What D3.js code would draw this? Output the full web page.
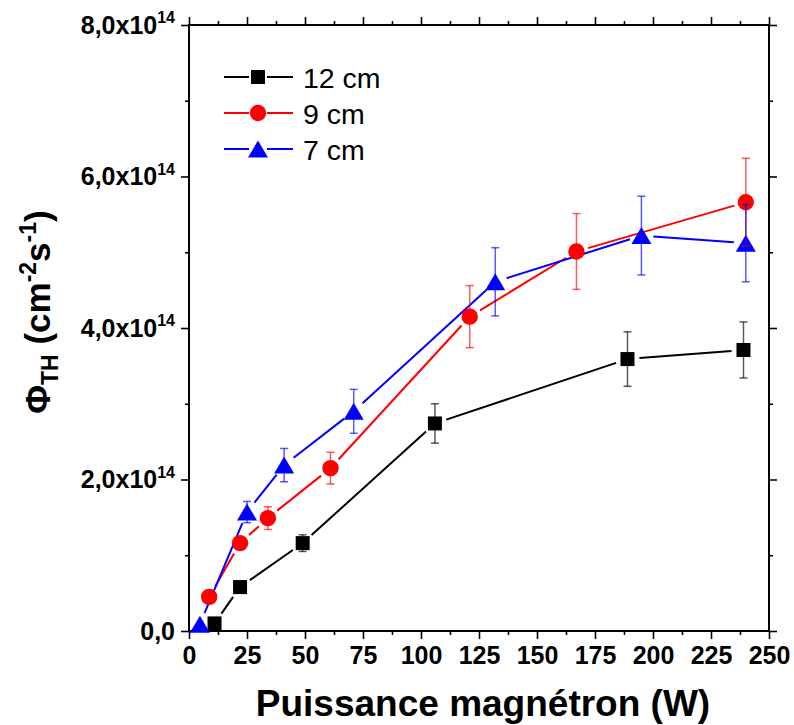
<!DOCTYPE html>
<html>
<head>
<meta charset="utf-8">
<script src="https://cdn.jsdelivr.net/npm/d3@7"></script>
<style>
  html, body { margin: 0; padding: 0; background: #fff; }
  svg { display: block; font-family: "Liberation Sans", Arial, sans-serif; }
</style>
</head>
<body>
<svg id="chart" width="794" height="725"></svg>
<script>
// ---- data (values in units of 1e14 cm^-2 s^-1) ----
const seriesNames = ["12 cm", "9 cm", "7 cm"];
const seriesColors = ["#000000", "#ff0000", "#0000ff"];

const x12 = [11, 22, 49, 106, 189, 239];
const y12 = [0.10, 0.58, 1.16, 2.74, 3.59, 3.71];
const e12 = [0.01, 0.03, 0.11, 0.26, 0.36, 0.37];

const x9 = [8.7, 22, 34, 61, 121, 167, 240];
const y9 = [0.45, 1.16, 1.49, 2.15, 4.15, 5.01, 5.66];
const e9 = [0.03, 0.06, 0.15, 0.21, 0.41, 0.50, 0.58];

const x7 = [4.7, 25, 41, 71, 132, 195, 240];
const y7 = [0.09, 1.57, 2.19, 2.90, 4.61, 5.22, 5.12];
const e7 = [0.01, 0.14, 0.22, 0.29, 0.45, 0.52, 0.51];

const xMajorTicks = [0, 25, 50, 75, 100, 125, 150, 175, 200, 225, 250];
const xMinorTicks = [12.5, 37.5, 62.5, 87.5, 112.5, 137.5, 162.5, 187.5, 212.5, 237.5];
const yMajorTicks = [0, 2, 4, 6, 8];
const yMinorTicks = [1, 3, 5, 7];
const yTickMantissa = ["0,0", "2,0x10", "4,0x10", "6,0x10", "8,0x10"];
const yTickExponent = ["", "14", "14", "14", "14"];

const xTitle = "Puissance magnétron (W)";

// ---- layout ----
const L = 189, R = 769, T = 25, B = 631;
const svg = d3.select("#chart");
const x = d3.scaleLinear().domain([0, 250]).range([L, R]);
const y = d3.scaleLinear().domain([0, 8]).range([B, T]);

const series = [
  { name: seriesNames[0], color: seriesColors[0], shape: "square",
    pts: x12.map((v, i) => ({ x: v, y: y12[i], e: e12[i] })) },
  { name: seriesNames[1], color: seriesColors[1], shape: "circle",
    pts: x9.map((v, i) => ({ x: v, y: y9[i], e: e9[i] })) },
  { name: seriesNames[2], color: seriesColors[2], shape: "triangle",
    pts: x7.map((v, i) => ({ x: v, y: y7[i], e: e7[i] })) }
];

// ---- axes ----
function styleAxis(g) {
  g.select(".domain").remove();
  g.selectAll(".tick line").attr("stroke", "#000").attr("stroke-width", 1.6);
}
const fmtX = d3.format("d");
svg.append("g").attr("transform", `translate(0,${B})`)
  .call(d3.axisBottom(x).tickValues(xMajorTicks).tickSize(8).tickPadding(7).tickFormat(fmtX))
  .call(styleAxis)
  .call(g => g.selectAll("text").attr("font-size", 25).attr("font-weight", "bold")
    .attr("fill", "#000").attr("font-family", "'Liberation Sans', Arial, sans-serif"));
svg.append("g").attr("transform", `translate(0,${B})`)
  .call(d3.axisBottom(x).tickValues(xMinorTicks).tickSize(4).tickFormat(""))
  .call(styleAxis);
svg.append("g").attr("transform", `translate(0,${T})`)
  .call(d3.axisTop(x).tickValues(xMajorTicks).tickSize(8).tickFormat(""))
  .call(styleAxis);
svg.append("g").attr("transform", `translate(0,${T})`)
  .call(d3.axisTop(x).tickValues(xMinorTicks).tickSize(4).tickFormat(""))
  .call(styleAxis);
svg.append("g").attr("transform", `translate(${L},0)`)
  .call(d3.axisLeft(y).tickValues(yMajorTicks).tickSize(8).tickFormat(""))
  .call(styleAxis);
svg.append("g").attr("transform", `translate(${L},0)`)
  .call(d3.axisLeft(y).tickValues(yMinorTicks).tickSize(4).tickFormat(""))
  .call(styleAxis);
svg.append("g").attr("transform", `translate(${R},0)`)
  .call(d3.axisRight(y).tickValues(yMajorTicks).tickSize(8).tickFormat(""))
  .call(styleAxis);
svg.append("g").attr("transform", `translate(${R},0)`)
  .call(d3.axisRight(y).tickValues(yMinorTicks).tickSize(4).tickFormat(""))
  .call(styleAxis);

// frame
svg.append("rect").attr("x", L).attr("y", T).attr("width", R - L).attr("height", B - T)
  .attr("fill", "none").attr("stroke", "#000").attr("stroke-width", 2);

// y tick labels with exponent
yMajorTicks.forEach((v, i) => {
  const t = svg.append("text")
    .attr("x", L - 14).attr("y", y(v) + 8.8)
    .attr("text-anchor", "end").attr("font-size", 25).attr("font-weight", "bold").attr("fill", "#000");
  t.append("tspan").text(yTickMantissa[i]);
  if (yTickExponent[i]) {
    t.append("tspan").attr("font-size", 16).attr("dy", -10.5).text(yTickExponent[i]);
  }
});

// axis titles
svg.append("text").attr("x", 483).attr("y", 716).attr("text-anchor", "middle")
  .attr("font-size", 37).attr("font-weight", "bold").attr("fill", "#000").text(xTitle);

const yt = svg.append("text").attr("transform", "translate(50,312) rotate(-90)")
  .attr("text-anchor", "middle").attr("font-size", 35).attr("font-weight", "bold").attr("fill", "#000");
yt.append("tspan").text("Φ");
yt.append("tspan").attr("font-size", 23).attr("dy", 8).text("TH");
yt.append("tspan").attr("dy", -8).text(" (cm");
yt.append("tspan").attr("font-size", 23).attr("dy", -14).text("-2");
yt.append("tspan").attr("dy", 14).text("s");
yt.append("tspan").attr("font-size", 23).attr("dy", -14).text("-1");
yt.append("tspan").attr("dy", 14).text(")");

// ---- marker shapes ----
function drawMarker(g, shape, color) {
  if (shape === "square") {
    g.append("rect").attr("x", -7).attr("y", -7).attr("width", 14).attr("height", 14).attr("fill", color);
  } else if (shape === "circle") {
    g.append("circle").attr("r", 8.2).attr("fill", color);
  } else {
    g.append("path").attr("d", "M0,-8.5L10,8.5L-10,8.5Z").attr("fill", color);
  }
}

const gap = 12;
// lines with gaps around markers
series.forEach(s => {
  const g = svg.append("g");
  for (let i = 0; i < s.pts.length - 1; i++) {
    const x1 = x(s.pts[i].x), y1 = y(s.pts[i].y);
    const x2 = x(s.pts[i + 1].x), y2 = y(s.pts[i + 1].y);
    const len = Math.hypot(x2 - x1, y2 - y1);
    if (len <= 2 * gap) continue;
    const ux = (x2 - x1) / len, uy = (y2 - y1) / len;
    g.append("line")
      .attr("x1", x1 + ux * gap).attr("y1", y1 + uy * gap)
      .attr("x2", x2 - ux * gap).attr("y2", y2 - uy * gap)
      .attr("stroke", s.color).attr("stroke-width", 2);
  }
});

// markers
series.forEach(s => {
  s.pts.forEach(p => {
    const g = svg.append("g").attr("transform", `translate(${x(p.x)},${y(p.y)})`);
    drawMarker(g, s.shape, s.color);
  });
});

// error bars
series.forEach(s => {
  const g = svg.append("g").attr("stroke", s.color).attr("stroke-width", 1.5).attr("stroke-opacity", 0.65);
  s.pts.forEach(p => {
    const cx = x(p.x), yt2 = y(p.y + p.e), yb = y(p.y - p.e);
    g.append("line").attr("x1", cx).attr("x2", cx).attr("y1", yt2).attr("y2", yb);
    g.append("line").attr("x1", cx - 4).attr("x2", cx + 4).attr("y1", yt2).attr("y2", yt2);
    g.append("line").attr("x1", cx - 4).attr("x2", cx + 4).attr("y1", yb).attr("y2", yb);
  });
});

// ---- legend ----
const legendY = [77, 113, 149];
series.forEach((s, i) => {
  const ly = legendY[i];
  svg.append("line").attr("x1", 224).attr("x2", 249).attr("y1", ly).attr("y2", ly)
    .attr("stroke", s.color).attr("stroke-width", 2);
  svg.append("line").attr("x1", 267).attr("x2", 293).attr("y1", ly).attr("y2", ly)
    .attr("stroke", s.color).attr("stroke-width", 2);
  const g = svg.append("g").attr("transform", `translate(258,${ly})`);
  drawMarker(g, s.shape, s.color);
  svg.append("text").attr("x", 303).attr("y", ly + 10.5).attr("font-size", 28.5)
    .attr("fill", "#000").text(s.name);
});
</script>
</body>
</html>
